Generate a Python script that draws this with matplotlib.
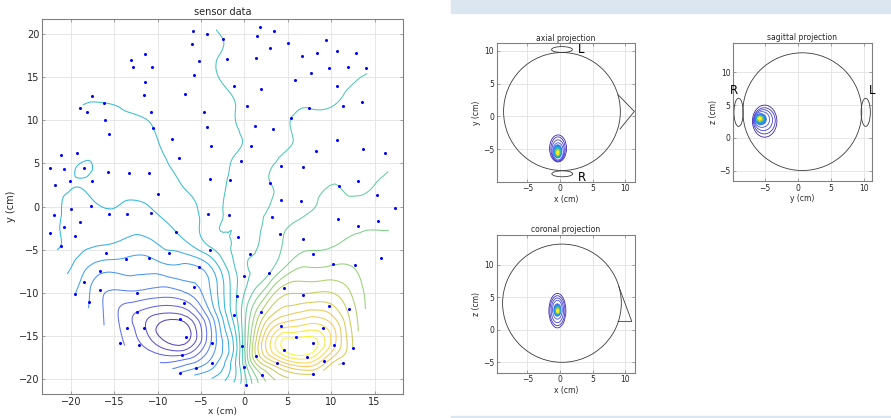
import numpy as np
import matplotlib
matplotlib.use("Agg")
import matplotlib.pyplot as plt
import matplotlib.tri as mtri
from matplotlib.colors import LinearSegmentedColormap
from matplotlib.patches import Circle, Ellipse, Rectangle

# sensor positions (cm)
sensor_x = [-5.9, -4.3, 1.8, 3.4, -2.5, 1.4, -6.0, 3.0, 5.0, 9.4,
            -13.1, -11.5, -12.8, -10.7, -5.2, -2.0, 1.3, 6.6, 8.4, 10.7,
            12.9, 9.8, 11.9, 14.0, 7.7, 5.8, -11.5, -5.8, -1.2, 1.9,
            10.7, -6.8, -11.6, -17.6, -19.0, -18.2, -16.2, -10.8, -4.7, 0.3,
            7.4, 11.4, 13.5, -16.1, 5.4, -15.6, -10.5, -4.3, 1.2, 3.3,
            -8.3, 10.7, -3.8, 0.8, 13.7, -7.5, 8.3, 16.2, -21.2, -19.3,
            -0.4, -22.4, -20.8, -18.5, 4.2, 6.8, -15.7, -13.3, -11.0, -21.8,
            -20.1, -17.6, -4.0, -1.7, 3.0, 13.1, 10.9, -10.0, 15.3, 4.2,
            6.5, 17.3, -17.7, -20.0, -22.0, -15.6, -13.5, -10.8, -4.2, -1.8,
            10.8, 3.2, 15.4, -19.0, 13.1, -20.8, -22.4, -19.5, -7.9, -0.7,
            4.1, 6.7, -21.2, -4.0, -16.0, -8.7, 0.6, 7.9, -13.7, -11.0,
            15.8, 10.2, 12.7, -5.2, -16.7, 2.8, 0.0, -18.5, -5.8, 4.6,
            -16.7, -19.5, -12.4, 6.7, -0.9, -17.9, -7.0, 9.7, 12.1, -12.4,
            1.9, -1.2, -7.4, 4.2, -13.5, -11.6, 9.0, -6.7, 6.0, -14.3,
            -12.2, -3.7, 7.9, 10.3, -0.3, 12.5, 4.6, -7.2, 1.3, 7.2,
            -3.7, 9.2, 11.4, 3.7, 0.0, -5.6, -7.4, 2.0, 7.9, 0.2]
sensor_y = [20.3, 20.0, 20.8, 20.3, 19.4, 19.7, 18.8, 18.3, 18.9, 19.3,
            17.0, 17.6, 16.1, 16.2, 16.8, 17.1, 17.2, 17.4, 17.8, 18.0,
            17.8, 16.0, 16.2, 16.0, 15.4, 14.7, 14.4, 15.2, 13.9, 13.6,
            13.9, 13.0, 12.9, 12.8, 11.4, 11.0, 12.0, 11.0, 11.0, 11.6,
            11.4, 11.6, 12.1, 10.0, 10.3, 8.4, 9.1, 9.2, 9.3, 9.0,
            7.8, 7.7, 7.0, 7.0, 6.7, 5.6, 6.4, 6.2, 6.0, 6.2,
            5.3, 4.5, 4.3, 4.5, 4.7, 4.6, 4.0, 3.9, 3.9, 2.5,
            3.0, 3.0, 3.2, 3.1, 2.7, 3.0, 2.4, 1.4, 1.3, 0.8,
            0.6, -0.2, 0.1, -0.3, -1.0, -0.9, -0.8, -0.7, -0.8, -1.0,
            -1.4, -1.2, -1.7, -1.8, -2.2, -2.4, -3.0, -3.4, -2.9, -3.5,
            -3.2, -3.7, -4.6, -5.0, -5.4, -5.4, -5.5, -5.5, -6.1, -6.0,
            -6.0, -6.6, -6.8, -7.0, -7.5, -7.7, -8.0, -8.7, -9.3, -9.4,
            -9.6, -10.1, -10.0, -10.2, -10.4, -11.0, -11.1, -11.5, -11.9, -12.2,
            -12.2, -12.5, -13.0, -13.8, -14.1, -14.1, -14.0, -15.1, -15.1, -15.8,
            -16.0, -15.8, -15.8, -16.0, -16.1, -16.4, -16.6, -17.2, -17.3, -17.4,
            -18.1, -17.9, -18.1, -18.1, -18.5, -18.7, -19.2, -19.5, -19.4, -20.6]
# field value at each sensor, in contour steps, estimated from the contours
sensor_value = [-0.7, -0.6, -0.1, 0.1, -0.5, -0.1, -0.8, 0.1, 0.3, 0.3,
                -1.4, -1.3, -1.4, -1.2, -0.7, -0.4, -0.1, 0.2, 0.3, 0.3,
                0.4, 0.3, 0.4, 0.45, 0.3, 0.2, -1.3, -0.8, -0.4, -0.1,
                0.4, -1.0, -1.3, -1.4, -1.5, -1.6, -1.5, -1.4, -0.9, -0.3,
                0.5, 0.6, 0.8, -1.7, 0.5, -1.8, -1.5, -0.9, -0.1, 0.3,
                -1.3, 0.9, -0.9, -0.3, 1.3, -1.3, 0.8, 1.4, -2.1, -2.1,
                -0.3, -2.2, -2.2, -2.65, 0.6, 0.8, -2.1, -2.0, -1.8, -2.3,
                -2.4, -2.3, -0.8, -0.45, 0.5, 1.3, 1.5, -2.1, 1.7, 0.6,
                1.1, 2.0, -2.7, -2.8, -2.3, -2.6, -2.8, -2.6, -1.1, -0.4,
                1.8, 0.8, 2.2, -2.9, 2.3, -2.7, -2.3, -3.0, -2.5, -0.4,
                1.4, 2.0, -2.5, -1.8, -4.0, -3.7, 0.4, 2.7, -4.6, -4.6,
                3.0, 3.4, 3.4, -4.5, -5.3, 1.4, 0.2, -4.8, -5.7, 4.8,
                -6.2, -4.5, -6.7, 5.6, -0.5, -5.5, -7.8, 6.8, 5.2, -8.5,
                4.5, -1.0, -10.3, 9.0, -8.0, -9.3, 9.8, -11.0, 11.4, -7.3,
                -8.3, -6.2, 12.0, 8.8, 0.2, 5.5, 11.6, -8.5, 5.5, 11.0,
                -5.0, 8.0, 5.5, 7.5, 0.8, -5.5, -5.5, 3.5, 6.5, 0.5]
contour_levels = np.arange(-10.5, 12.0, 1.0)

# source blobs on the three projections: ring widths / heights / centres (cm)
axial_w = [0.35, 0.6, 0.85, 1.05, 1.25, 1.6, 1.9, 2.2, 2.6]
axial_h = [0.6, 0.95, 1.35, 1.7, 2.0, 2.6, 3.2, 3.7, 4.1]
axial_cx = [-0.35, -0.35, -0.35, -0.35, -0.35, -0.3, -0.3, -0.3, -0.3]
axial_cy = [-5.5, -5.45, -5.4, -5.35, -5.3, -5.3, -5.15, -4.95, -4.85]
sagittal_w = [0.5, 0.8, 1.1, 1.4, 1.7, 2.3, 2.8, 3.3, 3.7]
sagittal_h = [0.45, 0.75, 1.05, 1.35, 1.7, 2.4, 3.2, 4.0, 4.9]
sagittal_cx = [-5.75, -5.7, -5.7, -5.65, -5.6, -5.4, -5.2, -5.05, -5.0]
sagittal_cy = [2.95, 2.9, 2.9, 2.85, 2.85, 2.8, 2.7, 2.6, 2.55]
coronal_w = [0.3, 0.5, 0.7, 0.9, 1.1, 1.5, 1.9, 2.3, 2.6]
coronal_h = [0.5, 0.85, 1.2, 1.55, 1.9, 2.9, 3.8, 4.6, 5.3]
coronal_cx = [-0.35, -0.35, -0.35, -0.4, -0.4, -0.4, -0.4, -0.4, -0.4]
coronal_cy = [2.9, 2.95, 3.0, 3.0, 3.05, 3.1, 3.0, 2.95, 2.95]
ring_shade = [1.0, 0.72, 0.5, 0.3, 0.18, 0.12, 0.08, 0.04, 0.0]
ring_filled = [True, True, True, True, True, False, False, False, False]

parula = LinearSegmentedColormap.from_list("parula", [
    (0.00, (0.24, 0.15, 0.66)), (0.12, (0.28, 0.32, 0.96)),
    (0.25, (0.15, 0.55, 0.95)), (0.37, (0.05, 0.68, 0.85)),
    (0.50, (0.20, 0.75, 0.65)), (0.62, (0.48, 0.80, 0.40)),
    (0.75, (0.80, 0.76, 0.22)), (0.87, (0.99, 0.75, 0.25)),
    (1.00, (0.98, 0.96, 0.10))])

TEXT = "#262626"
GRID = "#e3e3e3"
HEAD = "#3a3a3a"


def style_axes(ax, size):
    ax.set_facecolor("white")
    ax.grid(True, color=GRID, linewidth=0.6)
    ax.set_axisbelow(True)
    for spine in ax.spines.values():
        spine.set_color("#808080")
        spine.set_linewidth(0.8)
    ax.tick_params(direction="in", length=2.5, width=0.5, colors="#808080",
                   labelcolor=TEXT, labelsize=size, top=True, right=True,
                   labeltop=False, labelright=False, pad=2)


def draw_blob(ax, cx, cy, w, h):
    for i in range(len(w) - 1, -1, -1):
        col = parula(ring_shade[i])
        ax.add_patch(Ellipse((cx[i], cy[i]), w[i], h[i],
                             facecolor=col if ring_filled[i] else "none",
                             edgecolor=col, linewidth=0.6, zorder=3))


def head(ax, centre, radius):
    ax.add_patch(Circle(centre, radius, fill=False, edgecolor=HEAD,
                        linewidth=0.6, zorder=2))


def ear(ax, centre, w, h):
    ax.add_patch(Ellipse(centre, w, h, fill=False, edgecolor=HEAD, linewidth=0.6))


def finish_projection(ax, title, xlabel, ylabel, xlim, ylim):
    ax.set_xlim(*xlim)
    ax.set_ylim(*ylim)
    ax.set_xticks([-5, 0, 5, 10])
    ax.set_yticks([-5, 0, 5, 10])
    ax.set_title(title, fontsize=5.5, color=TEXT, pad=2)
    ax.set_xlabel(xlabel, fontsize=5.5, color=TEXT, labelpad=1)
    ax.set_ylabel(ylabel, fontsize=5.5, color=TEXT, labelpad=1)


fig = plt.figure(figsize=(8.91, 4.18), dpi=100)

# light page strips of the right-hand panel
fig.patches.append(Rectangle((451 / 891, 1 - 13 / 418), 440 / 891, 13 / 418,
                             transform=fig.transFigure, color="#dce6f1", zorder=0))
fig.patches.append(Rectangle((451 / 891, 0), 440 / 891, 2 / 418,
                             transform=fig.transFigure, color="#dce6f1", zorder=0))

# ---- sensor data ----
ax = fig.add_axes([0.0475, 0.057, 0.405, 0.8975])
style_axes(ax, 7)
sx = np.array(sensor_x)
sy = np.array(sensor_y)
triang = mtri.Triangulation(sx, sy)
refiner = mtri.UniformTriRefiner(triang)
tri_ref, z_ref = refiner.refine_field(np.array(sensor_value), subdiv=3)
ax.tricontour(tri_ref, z_ref, levels=contour_levels, cmap=parula, alpha=0.85,
              linewidths=0.75, vmin=contour_levels[0], vmax=contour_levels[-1])
ax.plot(sx, sy, "o", color="#0000ff", markersize=2.2, markeredgewidth=0, zorder=4)
ax.set_xlim(-23.3, 18.3)
ax.set_ylim(-21.7, 21.7)
ax.set_xticks(np.arange(-20, 16, 5))
ax.set_yticks(np.arange(-20, 21, 5))
ax.set_title("sensor data", fontsize=7, color=TEXT, pad=3)
ax.set_xlabel("x (cm)", fontsize=6.5, color=TEXT, labelpad=0)
ax.set_ylabel("y (cm)", fontsize=7, color=TEXT, labelpad=2)

# ---- axial projection ----
ax1 = fig.add_axes([0.5575, 0.5653, 0.1552, 0.3311])
style_axes(ax1, 5.5)
head(ax1, (0.3, 0.75), 8.95)
ax1.plot([8.9, 11.4, 9.2], [3.3, 0.76, -1.9], color=HEAD, linewidth=0.6)
ear(ax1, (0.3, 10.15), 3.2, 0.9)
ear(ax1, (0.35, -8.7), 3.2, 0.9)
ax1.text(3.3, 10.2, "L", fontsize=8.5, ha="center", va="center", color="black")
ax1.text(3.3, -9.3, "R", fontsize=8.5, ha="center", va="center", color="black")
draw_blob(ax1, axial_cx, axial_cy, axial_w, axial_h)
finish_projection(ax1, "axial projection", "x (cm)", "y (cm)", (-9.7, 11.5), (-9.9, 11.1))

# ---- sagittal projection ----
ax2 = fig.add_axes([0.823, 0.567, 0.1553, 0.3309])
style_axes(ax2, 5.5)
head(ax2, (0.7, 4.0), 9.0)
ear(ax2, (-8.95, 3.9), 1.4, 4.3)
ear(ax2, (10.3, 3.9), 1.4, 4.3)
ax2.text(-9.6, 7.2, "R", fontsize=8.5, ha="center", va="center", color="black")
ax2.text(11.2, 7.2, "L", fontsize=8.5, ha="center", va="center", color="black")
draw_blob(ax2, sagittal_cx, sagittal_cy, sagittal_w, sagittal_h)
finish_projection(ax2, "sagittal projection", "y (cm)", "z (cm)", (-9.75, 11.2), (-6.6, 14.55))

# ---- coronal projection ----
ax3 = fig.add_axes([0.5575, 0.1084, 0.1552, 0.3294])
style_axes(ax3, 5.5)
head(ax3, (0.3, 4.1), 9.1)
ax3.plot([9.0, 11.0, 8.9], [6.7, 1.3, 1.3], color=HEAD, linewidth=0.6)
draw_blob(ax3, coronal_cx, coronal_cy, coronal_w, coronal_h)
finish_projection(ax3, "coronal projection", "x (cm)", "z (cm)", (-9.7, 11.5), (-6.6, 14.6))

fig.savefig("out.png", dpi=100)
